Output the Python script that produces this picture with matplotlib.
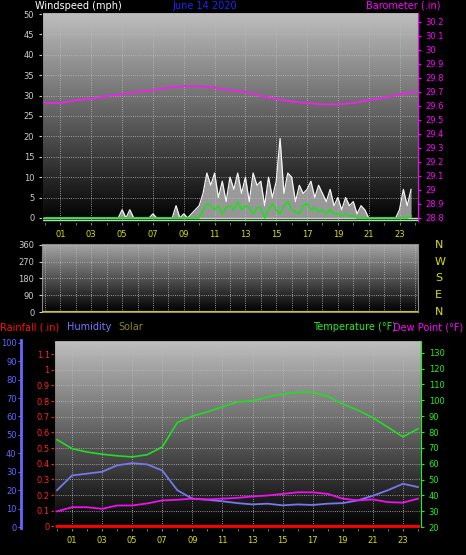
import numpy as np
import matplotlib
matplotlib.use('Agg')
import matplotlib.pyplot as plt

# --- data ---
q_hours = np.arange(96) / 4.0
gust = [0] * 16 + [0, 0, 0, 0, 2, 0, 2, 0, 0, 0, 0, 0, 1, 0, 0, 0, 0, 0, 3, 0, 1, 0, 1, 2,
        3, 6, 11, 8, 11, 5, 9, 4, 10, 7, 11, 6, 10, 4, 11, 8, 9, 3, 10, 5,
        9, 19.5, 6, 11, 10, 4, 8, 6, 7, 9, 5, 8, 6, 4, 7, 3, 5, 2, 5, 3,
        4, 1, 3, 2, 0, 0, 0, 0, 0, 0, 0, 0, 2, 7, 3, 7]
avg_wind = [0] * 40 + [0, 2, 3.5, 3, 2, 3, 1, 2.5, 3, 2, 4, 2, 3, 2.5, 1, 2.5,
            2.5, 0, 2, 3.5, 2, 1, 3, 4, 2, 1.5, 1, 3, 3.5, 2, 2.5, 1.5,
            2, 1, 2, 1, 1, 0.5, 1, 0.5, 0.5, 0, 0, 0, 0, 0, 0, 0, 0, 0, 0, 0, 0, 0, 0, 0.5]

hours = np.arange(25)
baro = [29.62, 29.62, 29.64, 29.65, 29.67, 29.68, 29.70, 29.71, 29.73, 29.74, 29.74, 29.73, 29.71,
        29.70, 29.67, 29.65, 29.63, 29.62, 29.61, 29.61, 29.62, 29.64, 29.66, 29.68, 29.70]
temp = [75.2, 69.5, 67.4, 66, 65, 64.3, 65.7, 70.6, 86, 90, 92.7, 95.9, 99, 99.7, 102, 104,
        105, 105, 102.6, 97.6, 93.8, 89, 83, 77, 82]
humidity = [20, 28, 29, 30, 33.5, 34.7, 34, 30.7, 20, 15.4, 14.8, 14, 13, 12.3, 12.7, 11.8,
            12.3, 12, 12.7, 13, 14.5, 17, 20, 23.5, 21.7]
dewpoint = [30, 32.6, 32.6, 31.6, 33.7, 33.7, 35, 36.9, 37.3, 38, 37.5, 38, 38.5, 39.4, 40, 41,
            42, 42, 41, 38, 36.9, 37.5, 35.8, 35.5, 38]
rain = [0] * 25
xlabels = ['01', '03', '05', '07', '09', '11', '13', '15', '17', '19', '21', '23']

W, H = 466, 555
fig = plt.figure(figsize=(W / 100, H / 100), dpi=100, facecolor='black')
plt.rcParams['font.size'] = 6


def box(l, t, r, b):
    return [l / W, 1 - b / H, (r - l) / W, (b - t) / H]


def backdrop(ax, top=0.75):
    grad = np.linspace(top, 0.0, 256).reshape(-1, 1)
    ax.imshow(grad, cmap='gray', vmin=0, vmax=1, aspect='auto',
              extent=(0, 1, 0, 1), transform=ax.transAxes, zorder=0)
    ax.grid(True, color='#bbbbbb', linestyle=':', linewidth=0.6)
    ax.set_axisbelow(False)
    for s in ax.spines.values():
        s.set_color('#888888')


def xaxis(ax):
    ax.set_xlim(-0.2, 24.2)
    ax.set_xticks(range(1, 24, 2))
    ax.set_xticklabels(xlabels, color='#dddd00')
    ax.set_xticks(range(0, 25), minor=True)
    ax.tick_params(axis='x', which='both', colors='#888888', labelcolor='#dddd00', length=2)


# --- wind / barometer ---
ax1 = fig.add_axes(box(42, 12, 418, 222))
backdrop(ax1)
xaxis(ax1)
ax1.set_ylim(-1, 50.5)
ax1.set_yticks(range(0, 51, 5))
ax1.tick_params(axis='y', colors='#cccccc', length=2)
ax1.axhline(0, color='#dddddd', lw=1, zorder=2)
ax1.axhline(-0.6, color='#99ee99', lw=1, zorder=2)
ax1.fill_between(q_hours, gust, 0, color='#bbbbbb', alpha=0.8, lw=0, zorder=3)
ax1.plot(q_hours, gust, color='#f4f4f4', lw=0.9, zorder=3)
ax1.plot(q_hours, avg_wind, color='#22dd22', lw=1.2, zorder=4)
ax1b = ax1.twinx()
ax1b.set_ylim(28.77, 30.27)
ticks_b = np.arange(28.8, 30.21, 0.1).round(1)
ax1b.set_yticks(ticks_b)
ax1b.set_yticklabels([f'{v:g}' for v in ticks_b])
ax1b.tick_params(axis='y', colors='#ff00ff', length=2)
ax1b.spines['right'].set_color('#ff00ff')
ax1b.plot(hours, baro, color='#ee22ee', lw=1.3)
ax1b.set_xlim(-0.2, 24.2)

fig.text(35 / W, 1 - 6 / H, 'Windspeed (mph)', color='white', fontsize=7, va='center')
fig.text(205 / W, 1 - 6 / H, 'June 14 2020', color='#2222ff', fontsize=7, va='center', ha='center')
fig.text(440 / W, 1 - 6 / H, 'Barometer (.in)', color='#ff00ff', fontsize=7, va='center', ha='right')

# --- wind direction ---
ax2 = fig.add_axes(box(42, 244, 418, 312))
backdrop(ax2, top=0.65)
ax2.set_xlim(-0.2, 24.2)
ax2.set_xticks(range(0, 25))
ax2.tick_params(axis='x', labelbottom=False, length=0)
ax2.set_ylim(0, 365)
ax2.set_yticks([0, 90, 180, 270, 360])
ax2.tick_params(axis='y', colors='#cccccc', length=2)
ax2.axhline(1.5, color='#cccc00', lw=1.5, zorder=3)
for v, lab in zip([360, 270, 180, 90, 0], ['N', 'W', 'S', 'E', 'N']):
    ax2.text(1.045, v / 365, lab, color='#dddd00', fontsize=8, transform=ax2.transAxes, va='center')

# --- temperature / humidity / rain ---
ax3 = fig.add_axes(box(54, 340, 421, 528))
backdrop(ax3)
xaxis(ax3)
ax3.set_ylim(-0.01, 1.19)
ticks_r = np.arange(0, 1.11, 0.1).round(1)
ax3.set_yticks(ticks_r)
ax3.set_yticklabels([f'{v:g}' for v in ticks_r])
ax3.tick_params(axis='y', colors='#ff2222', length=2, pad=1)
ax3.spines['left'].set_color('#ff3333')
ax3.plot(hours, rain, color='#ff0000', lw=2.2, zorder=5)

axh = ax3.twinx()
axh.yaxis.tick_left()
axh.spines['left'].set_position(('outward', 24))
axh.spines['left'].set_visible(True)
axh.spines['left'].set_color('#6666ff')
axh.spines['left'].set_linewidth(2)
axh.set_ylim(-0.5, 101.5)
axh.set_yticks(range(0, 101, 10))
axh.tick_params(axis='y', colors='#6666ff', length=2, pad=1)
axh.plot(hours, humidity, color='#7777ee', lw=1.3)

axt = ax3.twinx()
axt.set_ylim(19.5, 138)
axt.set_yticks(range(20, 131, 10))
axt.tick_params(axis='y', colors='#22ee22', length=2)
axt.spines['right'].set_color('#22ee22')
axt.plot(hours, temp, color='#22dd22', lw=1.2)
axt.plot(hours, dewpoint, color='#ee11ee', lw=1.3)
axt.set_xlim(-0.2, 24.2)

fig.text(0, 1 - 327 / H, 'Rainfall (.in)', color='#ff1111', fontsize=7, va='center')
fig.text(67 / W, 1 - 327 / H, 'Humidity', color='#7777ff', fontsize=7, va='center')
fig.text(118 / W, 1 - 327 / H, 'Solar', color='#888822', fontsize=7, va='center')
fig.text(313 / W, 1 - 327 / H, 'Temperature (°F)', color='#22ee22', fontsize=7, va='center')
fig.text(463 / W, 1 - 327 / H, 'Dew Point (°F)', color='#ff00ff', fontsize=7, va='center', ha='right')

fig.savefig('out.png', dpi=100, facecolor='black')
